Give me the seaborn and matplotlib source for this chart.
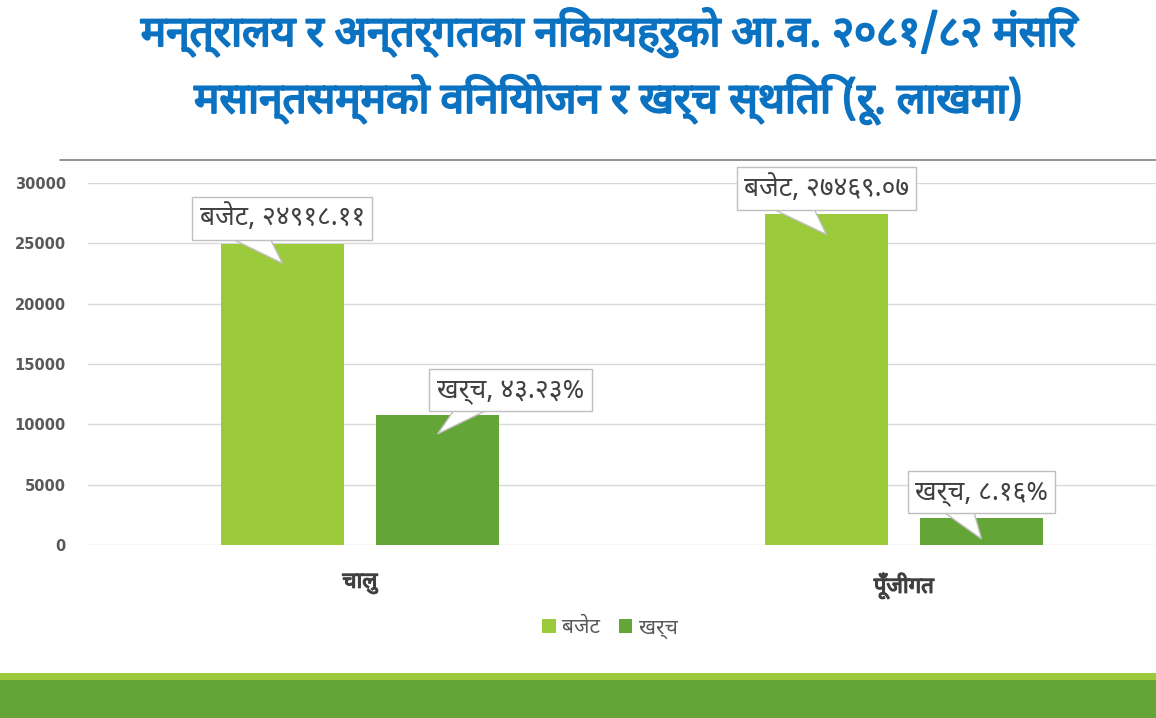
import matplotlib
matplotlib.use("Agg")
import matplotlib.pyplot as plt
from matplotlib import font_manager
from matplotlib.lines import Line2D
from matplotlib.patches import Rectangle, Patch, Polygon
import matplotlib.transforms as mtransforms
import matplotlib.patheffects as pe
import seaborn as sns
import pandas as pd

# ---------------- data ----------------
title_lines = ["मन्त्रालय र अन्तर्गतका निकायहरुको आ.व. २०८१/८२ मंसिर",
               "मसान्तसम्मको विनियोजन र खर्च स्थिति (रू. लाखमा)"]
categories = ["चालु", "पूँजीगत"]
series = ["बजेट", "खर्च"]
budget = [24918.11, 27469.07]
expense = [10772.0, 2241.5]
budget_labels = ["बजेट, २४९१८.११", "बजेट, २७४६९.०७"]
expense_labels = ["खर्च, ४३.२३%", "खर्च, ८.१६%"]
yticks = [0, 5000, 10000, 15000, 20000, 25000, 30000]

# ---------------- fonts ----------------
def find_font(ch):
    try:
        from fontTools.ttLib import TTFont
    except Exception:
        return None
    names = []
    for fe in font_manager.fontManager.ttflist:
        try:
            f = TTFont(fe.fname, fontNumber=0, lazy=True)
            cmap = f.getBestCmap()
            if cmap and ord(ch) in cmap:
                names.append(fe.name)
        except Exception:
            pass
    if not names:
        return None
    for pref in ["Noto Sans Devanagari", "Noto Sans", "Mukta", "Lohit Devanagari"]:
        if pref in names:
            return pref
    return names[0]

sns.set_theme(style="white")
deva = find_font("क")
fams = ([deva] if deva else []) + ["DejaVu Sans"]
plt.rcParams["font.family"] = fams

# ---------------- figure ----------------
W, H = 1156, 718
fig = plt.figure(figsize=(W / 100, H / 100), dpi=100)
fig.patch.set_facecolor("white")
ax = fig.add_axes([88 / W, (H - 545) / H, (W - 88) / W, (545 - 183) / H])

df = pd.DataFrame({
    "cat": categories * 2,
    "series": [series[0]] * 2 + [series[1]] * 2,
    "value": budget + expense,
})
palette = {series[0]: "#9BCB3B", series[1]: "#63A537"}
sns.barplot(data=df, x="cat", y="value", hue="series", order=categories,
            hue_order=series, palette=palette, width=0.57, gap=0.21,
            saturation=1, ax=ax, legend=False, edgecolor="none")

ax.set_xlim(-0.5, (W - 360) / 544)
ax.set_ylim(0, 30000)
ax.set_yticks(yticks)
ax.set_yticklabels([str(t) for t in yticks], fontsize=10.5, fontweight="bold",
                   color="#595959", family="DejaVu Sans")
ax.tick_params(axis="y", length=0, pad=16)
ax.tick_params(axis="x", length=0, pad=20)
ax.set_xticks(range(len(categories)))
ax.set_xticklabels(categories, fontsize=16, color="#404040")
bold_fx = [pe.withStroke(linewidth=0.9, foreground="#404040")]
for t in ax.get_xticklabels():
    t.set_path_effects(bold_fx)
ax.set_xlabel("")
ax.set_ylabel("")
ax.grid(axis="y", color="#D9D9D9", lw=1)
ax.set_axisbelow(True)
for s in ax.spines.values():
    s.set_visible(False)

# ---------------- callouts ----------------
def px_transform(x, y):
    # coordinates in pixels, relative to data point (x, y)
    return (mtransforms.Affine2D().scale(0.01) + fig.dpi_scale_trans
            + mtransforms.ScaledTranslation(x, y, ax.transData))

def callout(xc, top, label, dx, dy, base, tip_depth):
    tr = px_transform(xc, top)
    tail = Polygon([(base[0], dy - 15), (base[1], dy - 15), (0, -tip_depth)],
                   closed=True, fc="white", ec="#BFBFBF", lw=1,
                   transform=tr, zorder=4, clip_on=False)
    ax.add_patch(tail)
    ax.text(dx, dy, label, transform=tr, ha="center", va="center",
            fontsize=19, color="#404040", zorder=5,
            bbox=dict(boxstyle="square,pad=0.28", fc="white", ec="#BFBFBF", lw=1))

bars = list(ax.patches)
centers = sorted([(b.get_x() + b.get_width() / 2, b.get_height()) for b in bars
                  if b.get_height() > 0])
# order by x: cat0 budget, cat0 expense, cat1 budget, cat1 expense
budget_pos = [centers[0], centers[2]]
expense_pos = [centers[1], centers[3]]

callout(budget_pos[0][0], budget[0], budget_labels[0], 0, 26, (-62, -15), 19)
callout(budget_pos[1][0], budget[1], budget_labels[1], 0, 25, (-65, -15), 21)
callout(expense_pos[0][0], expense[0], expense_labels[0], 73, 25, (20, 60), 19)
callout(expense_pos[1][0], expense[1], expense_labels[1], 0, 26, (-45, -9), 21)

# ---------------- legend ----------------
handles = [Patch(facecolor=palette[s], edgecolor="none") for s in series]
fig.legend(handles, series, loc="center", bbox_to_anchor=(610 / W, 1 - 628 / H),
           ncol=2, frameon=False, handlelength=0.65, handleheight=0.65,
           handletextpad=0.3, columnspacing=0.9, fontsize=15,
           labelcolor="#595959")

# ---------------- title & decorations ----------------
title_fx = [pe.withStroke(linewidth=1.5, foreground="#0B72C2")]
for i, yy in enumerate([33, 100]):
    t = fig.text(608 / W, 1 - yy / H, title_lines[i], ha="center", va="center",
                 fontsize=30.5, color="#0B72C2")
    t.set_path_effects(title_fx)
fig.add_artist(Line2D([60 / W, 1], [1 - 160 / H] * 2, color="#7F7F7F", lw=1.2,
                      transform=fig.transFigure))
fig.add_artist(Rectangle((0, 0), 1, 38 / H, transform=fig.transFigure,
                         color="#63A537", lw=0))
fig.add_artist(Rectangle((0, 38 / H), 1, 7 / H, transform=fig.transFigure,
                         color="#9BCB3B", lw=0))

fig.savefig("out.png", dpi=100, facecolor="white")
